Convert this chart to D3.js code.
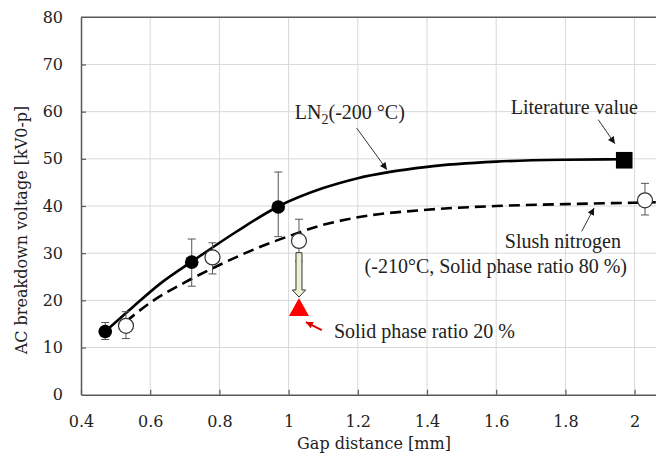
<!DOCTYPE html>
<html>
<head>
<meta charset="utf-8">
<script src="https://cdn.jsdelivr.net/npm/d3@7"></script>
<style>
  body { margin: 0; background: #fff; }
  svg { display: block; }
  .tk { font-family: "DejaVu Serif", "Liberation Serif", "Times New Roman", serif; }
  .nt { font-family: "Liberation Serif", "Times New Roman", Times, "DejaVu Serif", serif; }
</style>
</head>
<body>
<svg width="656" height="456"></svg>
<script>
// measured points (LN2, filled circles)
const ln2Gap = [0.47, 0.72, 0.97];
const ln2Volt = [13.4, 28.1, 39.8];
const ln2ErrLo = [11.7, 23.0, 33.5];
const ln2ErrHi = [15.3, 33.0, 47.2];

// slush nitrogen, open circles
const slushGap = [0.53, 0.78, 1.03, 2.03];
const slushVolt = [14.6, 29.1, 32.6, 41.2];
const slushErrLo = [11.9, 25.6, 28.3, 38.1];
const slushErrHi = [17.6, 32.2, 37.2, 44.8];

// literature value and solid phase ratio 20 %
const litGap = [1.97];
const litVolt = [49.7];
const solid20Gap = [1.03];
const solid20Volt = [18.6];

// fitted curves
const ln2FitGap = [0.47, 0.55, 0.63, 0.72, 0.85, 0.97, 1.1, 1.2, 1.4, 1.6, 1.8, 1.97];
const ln2FitVolt = [13.4, 18.6, 23.6, 28.2, 34.6, 39.9, 43.8, 45.9, 48.3, 49.4, 49.8, 49.9];
const slushFitGap = [0.53, 0.6, 0.7, 0.8, 0.9, 1.0, 1.1, 1.2, 1.4, 1.6, 1.8, 2.0, 2.2];
const slushFitVolt = [15.5, 19.5, 23.8, 27.5, 30.8, 33.6, 36.0, 37.6, 39.2, 40.0, 40.4, 40.7, 41.0];

const xTicks = [0.4, 0.6, 0.8, 1.0, 1.2, 1.4, 1.6, 1.8, 2.0];
const xTickLabels = ["0.4", "0.6", "0.8", "1", "1.2", "1.4", "1.6", "1.8", "2"];
const yTicks = [0, 10, 20, 30, 40, 50, 60, 70, 80];

const svg = d3.select("svg");
const x = d3.scaleLinear().domain([0.4, 2.2]).range([81, 703.8]);
const y = d3.scaleLinear().domain([0, 80]).range([394.7, 17.3]);

const axisCol = "#595959", gridCol = "#d9d9d9", textCol = "#222";

svg.append("rect").attr("width", 656).attr("height", 456).attr("fill", "#fff");

// grid
svg.append("g").selectAll("line").data(xTicks.slice(1).concat([2.2])).join("line")
  .attr("x1", d => x(d)).attr("x2", d => x(d))
  .attr("y1", y(0)).attr("y2", y(80))
  .attr("stroke", gridCol).attr("stroke-width", 1);
svg.append("g").selectAll("line").data(yTicks.slice(1, -1)).join("line")
  .attr("x1", x(0.4)).attr("x2", x(2.2))
  .attr("y1", d => y(d)).attr("y2", d => y(d))
  .attr("stroke", gridCol).attr("stroke-width", 1);

// top border
svg.append("line").attr("x1", x(0.4)).attr("x2", x(2.2))
  .attr("y1", y(80)).attr("y2", y(80))
  .attr("stroke", axisCol).attr("stroke-width", 1.5);

// axes
const gx = svg.append("g").attr("transform", `translate(0,${y(0)})`)
  .call(d3.axisBottom(x).tickValues(xTicks).tickSize(-5).tickSizeOuter(0).tickPadding(21)
    .tickFormat((d, i) => xTickLabels[i]));
const gy = svg.append("g").attr("transform", `translate(${x(0.4)},0)`)
  .call(d3.axisLeft(y).tickValues(yTicks).tickSize(-5).tickSizeOuter(0).tickPadding(18));
[gx, gy].forEach(g => {
  g.attr("font-family", null);
  g.select(".domain").attr("stroke", axisCol).attr("stroke-width", 1.5);
  g.selectAll(".tick line").attr("stroke", axisCol).attr("stroke-width", 1.2);
  g.selectAll(".tick text").attr("class", "tk").attr("fill", textCol).style("font-size", "16px");
});
gy.selectAll(".tick").filter(d => d === 0 || d === 80).select("line").remove();

// axis titles
svg.append("text").attr("class", "tk").attr("x", 374).attr("y", 449).attr("text-anchor", "middle")
  .attr("fill", textCol).style("font-size", "16px")
  .text("Gap distance [mm]");
svg.append("text").attr("class", "tk").attr("transform", "translate(27,230) rotate(-90)")
  .attr("text-anchor", "middle").attr("fill", textCol).style("font-size", "16px")
  .text("AC breakdown voltage [kV0-p]");

// fitted curves
const line = d3.line().x(d => x(d[0])).y(d => y(d[1])).curve(d3.curveMonotoneX);
svg.append("path").datum(d3.zip(slushFitGap, slushFitVolt)).attr("d", line)
  .attr("fill", "none").attr("stroke", "#000").attr("stroke-width", 2.6).attr("stroke-dasharray", "11,6");
svg.append("path").datum(d3.zip(ln2FitGap, ln2FitVolt)).attr("d", line)
  .attr("fill", "none").attr("stroke", "#000").attr("stroke-width", 2.6);

// error bars
const errBars = (gap, lo, hi) => {
  const g = svg.append("g").attr("stroke", "#555").attr("stroke-width", 1);
  gap.forEach((d, i) => {
    g.append("line").attr("x1", x(d)).attr("x2", x(d)).attr("y1", y(lo[i])).attr("y2", y(hi[i]));
    g.append("line").attr("x1", x(d) - 4).attr("x2", x(d) + 4).attr("y1", y(lo[i])).attr("y2", y(lo[i]));
    g.append("line").attr("x1", x(d) - 4).attr("x2", x(d) + 4).attr("y1", y(hi[i])).attr("y2", y(hi[i]));
  });
};
errBars(ln2Gap, ln2ErrLo, ln2ErrHi);
errBars(slushGap, slushErrLo, slushErrHi);

// markers
svg.append("g").selectAll("circle").data(d3.zip(ln2Gap, ln2Volt)).join("circle")
  .attr("cx", d => x(d[0])).attr("cy", d => y(d[1])).attr("r", 6.8).attr("fill", "#000");
svg.append("g").selectAll("circle").data(d3.zip(slushGap, slushVolt)).join("circle")
  .attr("cx", d => x(d[0])).attr("cy", d => y(d[1])).attr("r", 7.5)
  .attr("fill", "#fff").attr("stroke", "#333").attr("stroke-width", 1.2);
svg.append("g").selectAll("rect").data(d3.zip(litGap, litVolt)).join("rect")
  .attr("x", d => x(d[0]) - 8.3).attr("y", d => y(d[1]) - 8.3).attr("width", 16.6).attr("height", 16.6)
  .attr("fill", "#000");

// hollow arrow from slush point down to 20 % point
{
  const cx = x(solid20Gap[0]);
  const yTop = y(30.1), yNeck = y(22.2), yTip = y(20.7);
  const pts = [[cx - 3, yTop], [cx + 3, yTop], [cx + 3, yNeck], [cx + 6.7, yNeck], [cx, yTip],
               [cx - 6.7, yNeck], [cx - 3, yNeck]];
  svg.append("path").attr("d", d3.line()(pts) + "Z")
    .attr("fill", "#eef0d4").attr("stroke", "#333").attr("stroke-width", 1);
}
svg.append("g").selectAll("path").data(d3.zip(solid20Gap, solid20Volt)).join("path")
  .attr("d", d => {
    const cx = x(d[0]), cy = y(d[1]);
    return `M${cx},${cy - 9}L${cx + 10},${cy + 9}L${cx - 10},${cy + 9}Z`;
  })
  .attr("fill", "#ff0000");

// annotation arrows
const defs = svg.append("defs");
[["arrBlack", "#111"], ["arrRed", "#e00000"]].forEach(([id, c]) => {
  defs.append("marker").attr("id", id).attr("viewBox", "0 0 10 10").attr("refX", 10).attr("refY", 5)
    .attr("markerWidth", 9).attr("markerHeight", 7).attr("markerUnits", "userSpaceOnUse")
    .attr("orient", "auto")
    .append("path").attr("d", "M0,0L10,5L0,10Z").attr("fill", c);
});
const arrow = (x1, y1, x2, y2, id, c, w) => svg.append("line")
  .attr("x1", x(x1)).attr("y1", y(y1)).attr("x2", x(x2)).attr("y2", y(y2))
  .attr("stroke", c).attr("stroke-width", w).attr("marker-end", `url(#${id})`);
arrow(1.197, 56.5, 1.284, 47.7, "arrBlack", "#333", 1);
arrow(1.895, 58.3, 1.943, 53.2, "arrBlack", "#333", 1);
arrow(1.847, 34.6, 1.883, 39.6, "arrBlack", "#333", 1);
arrow(1.096, 13.7, 1.05, 15.4, "arrRed", "#e00000", 2);

// annotation texts
const note = (gx_, gy_, anchor) => svg.append("text").attr("class", "nt")
  .attr("x", x(gx_)).attr("y", y(gy_))
  .attr("text-anchor", anchor).attr("fill", textCol).style("font-size", "20px");
const t1 = note(1.018, 58.4, "start");
t1.append("tspan").text("LN");
t1.append("tspan").attr("dy", 5).style("font-size", "14px").text("2");
t1.append("tspan").attr("dy", -5).text("(-200 °C)");
note(1.642, 59.6, "start").text("Literature value");
note(1.625, 31.0, "start").text("Slush nitrogen");
note(1.978, 25.7, "end").text("(-210°C, Solid phase ratio 80 %)");
note(1.131, 12.0, "start").text("Solid phase ratio 20 %");
</script>
</body>
</html>
